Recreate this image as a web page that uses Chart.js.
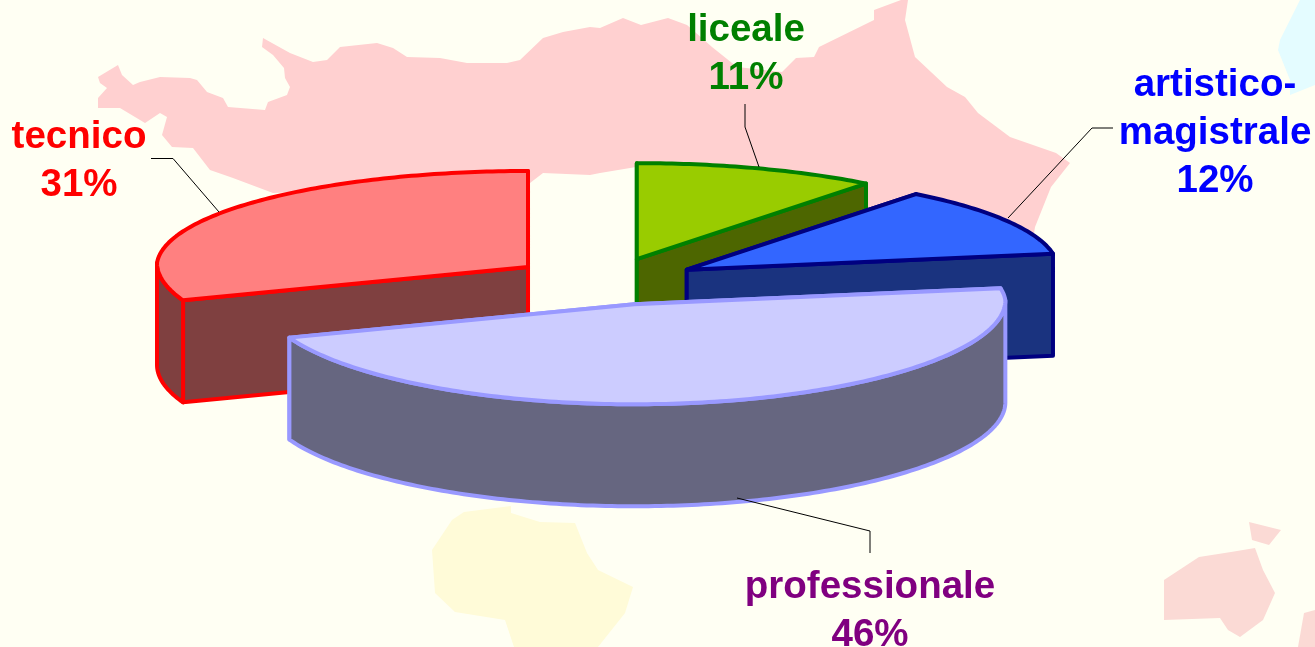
<!DOCTYPE html>
<html lang="it">
<head>
    <meta charset="UTF-8">
    <title>Scuole superiori</title>
    <script src="https://cdn.jsdelivr.net/npm/chart.js"></script>
    <style>
        html, body { margin: 0; padding: 0; background: #FFFFF3; overflow: hidden; }
        canvas { display: block; }
    </style>
</head>
<body>
    <canvas id="pieChart" width="1315" height="647"></canvas>

    <script>
        const categories = ["liceale", "artistico-magistrale", "professionale", "tecnico"];
        const percentages = [11, 12, 46, 31];

        const topColors = ["#99CC00", "#3366FF", "#CCCCFF", "#FF8080"];
        const sideColors = ["#4D6600", "#1A337F", "#666680", "#7F4040"];
        const borderColors = ["#008000", "#000080", "#9999FF", "#FF0000"];
        const textColors = ["#008000", "#0000FF", "#800080", "#FF0000"];
        const explode = [88, 91, 110, 95.5];
        const liftY = [0, 0, -6, 0];

        // geometria della torta 3D (con un po' di prospettiva sul retro)
        const pie3d = { cx: 607, cy: 281.5, rx: 371, ryBack: 96, ryFront: 100, depth: 102, squash: 0.27, backNarrow: 0.04, centerShift: 4 };
        const drawOrder = [3, 0, 1, 2];

        // etichette: centro x e linea di base della prima riga
        const labelPos = [[746, 41], [1215, 96], [870, 598], [79, 148]];
        const leaders = [
            [[745, 104], [745, 127], [759, 167]],
            [[1113, 128], [1092, 128], [1008, 218]],
            [[870, 553], [870, 531], [737, 498]],
            [[151, 158.5], [173, 158.5], [219, 212]]
        ];

        // sfondo: carta geografica sbiadita
        const mapShapes = [
            { color: "#FFD0D0", pts: [[98,77],[118,65],[122,75],[133,85],[140,82],[160,77],[190,78],[197,80],[207,92],[223,98],[228,107],[265,110],[268,102],[287,95],[290,87],[285,78],[284,68],[273,55],[262,47],[263,38],[290,53],[313,62],[327,60],[340,47],[377,43],[393,48],[407,57],[440,58],[467,63],[507,63],[520,60],[543,38],[563,32],[590,27],[600,28],[623,18],[641,25],[668,18],[687,25],[712,47],[737,67],[782,72],[796,58],[814,57],[819,47],[874,20],[874,10],[901,0],[908,0],[905,20],[915,57],[947,87],[965,97],[978,113],[1010,137],[1056,153],[1070,163],[1051,187],[1035,227],[1030,260],[640,200],[636,167],[600,173],[590,175],[543,173],[530,183],[273,193],[233,178],[210,170],[193,148],[172,147],[162,135],[167,117],[160,113],[145,123],[120,108],[98,108],[98,98],[107,88],[100,83]] },
            { color: "#FFFBD8", pts: [[464,512],[511,506],[511,513],[540,522],[575,523],[587,553],[598,570],[633,587],[625,613],[598,647],[514,647],[505,620],[455,612],[435,593],[432,550],[452,520]] },
            { color: "#FBDAD5", pts: [[1164,580],[1199,557],[1231,552],[1255,548],[1263,570],[1275,593],[1263,620],[1240,637],[1228,630],[1220,618],[1164,620]] },
            { color: "#FBDAD5", pts: [[1249,522],[1281,530],[1269,545],[1252,540]] },
            { color: "#FBDAD5", pts: [[1304,613],[1315,610],[1315,647],[1298,647]] },
            { color: "#E4FCFF", pts: [[1300,0],[1290,20],[1280,40],[1278,50],[1290,80],[1290,95],[1315,85],[1315,0]] }
        ];

        function rimPoint(o, a) {
            const s = Math.sin(a), c = Math.cos(a);
            const narrow = s < 0 ? 1 + pie3d.backNarrow * s : 1;
            return [
                o.x + pie3d.rx * c * narrow,
                o.y + (s > 0 ? pie3d.ryFront : pie3d.ryBack) * s - pie3d.centerShift * c * c
            ];
        }

        function rimPoints(o, a0, a1) {
            const pts = [];
            const steps = Math.max(2, Math.ceil(Math.abs(a1 - a0) * 60));
            for (let i = 0; i <= steps; i++) {
                pts.push(rimPoint(o, a0 + (a1 - a0) * i / steps));
            }
            return pts;
        }

        function drawPoly(ctx, pts, fill, stroke) {
            ctx.beginPath();
            pts.forEach((p, i) => i ? ctx.lineTo(p[0], p[1]) : ctx.moveTo(p[0], p[1]));
            ctx.closePath();
            ctx.fillStyle = fill;
            ctx.fill();
            if (stroke) {
                ctx.strokeStyle = stroke;
                ctx.lineWidth = 4;
                ctx.lineJoin = "round";
                ctx.stroke();
            }
        }

        function drawSlice(ctx, arc, i) {
            const a0 = arc.startAngle, a1 = arc.endAngle;
            const mid = (a0 + a1) / 2;
            const d = arc.options.offset;
            const o = {
                x: pie3d.cx + Math.cos(mid) * d,
                y: pie3d.cy + Math.sin(mid) * d * pie3d.squash + liftY[i]
            };
            const down = p => [p[0], p[1] + pie3d.depth];
            const apex = [o.x, o.y];

            // facce di taglio
            [a0, a1].forEach(a => {
                const r = rimPoint(o, a);
                drawPoly(ctx, [apex, r, down(r), down(apex)], sideColors[i], borderColors[i]);
            });

            // parete esterna, solo la parte davanti
            const w0 = Math.max(a0, 0), w1 = Math.min(a1, Math.PI);
            if (w1 > w0) {
                const rim = rimPoints(o, w0, w1);
                drawPoly(ctx, rim.concat(rim.map(down).reverse()), sideColors[i], borderColors[i]);
            }

            // faccia superiore
            drawPoly(ctx, [apex].concat(rimPoints(o, a0, a1)), topColors[i], borderColors[i]);
        }

        const mapBackground = {
            id: "mapBackground",
            beforeDraw(chart) {
                const ctx = chart.ctx;
                ctx.save();
                ctx.fillStyle = "#FFFFF3";
                ctx.fillRect(0, 0, chart.width, chart.height);
                mapShapes.forEach(s => drawPoly(ctx, s.pts, s.color));
                ctx.restore();
            }
        };

        const pie3dPlugin = {
            id: "pie3d",
            beforeDatasetsDraw(chart) {
                const ctx = chart.ctx;
                const arcs = chart.getDatasetMeta(0).data;
                ctx.save();
                drawOrder.forEach(i => drawSlice(ctx, arcs[i], i));
                ctx.restore();
                return false;
            },
            afterDraw(chart) {
                const ctx = chart.ctx;
                ctx.save();
                ctx.strokeStyle = "#000000";
                ctx.lineWidth = 1;
                leaders.forEach(line => {
                    ctx.beginPath();
                    line.forEach((p, i) => i ? ctx.lineTo(p[0], p[1]) : ctx.moveTo(p[0], p[1]));
                    ctx.stroke();
                });
                ctx.font = "bold 38.5px 'Liberation Sans', Arial, sans-serif";
                ctx.textAlign = "center";
                ctx.textBaseline = "alphabetic";
                categories.forEach((name, i) => {
                    const lines = name.replace("-", "-\n").split("\n");
                    lines.push(percentages[i] + "%");
                    ctx.fillStyle = textColors[i];
                    lines.forEach((t, n) => ctx.fillText(t, labelPos[i][0], labelPos[i][1] + n * 47.8));
                });
                ctx.restore();
            }
        };

        new Chart(document.getElementById("pieChart").getContext("2d"), {
            type: "pie",
            data: {
                labels: categories,
                datasets: [{
                    data: percentages,
                    backgroundColor: topColors,
                    borderColor: borderColors,
                    offset: explode
                }]
            },
            options: {
                responsive: false,
                animation: false,
                events: [],
                plugins: {
                    legend: { display: false },
                    tooltip: { enabled: false }
                }
            },
            plugins: [mapBackground, pie3dPlugin]
        });
    </script>
</body>
</html>
